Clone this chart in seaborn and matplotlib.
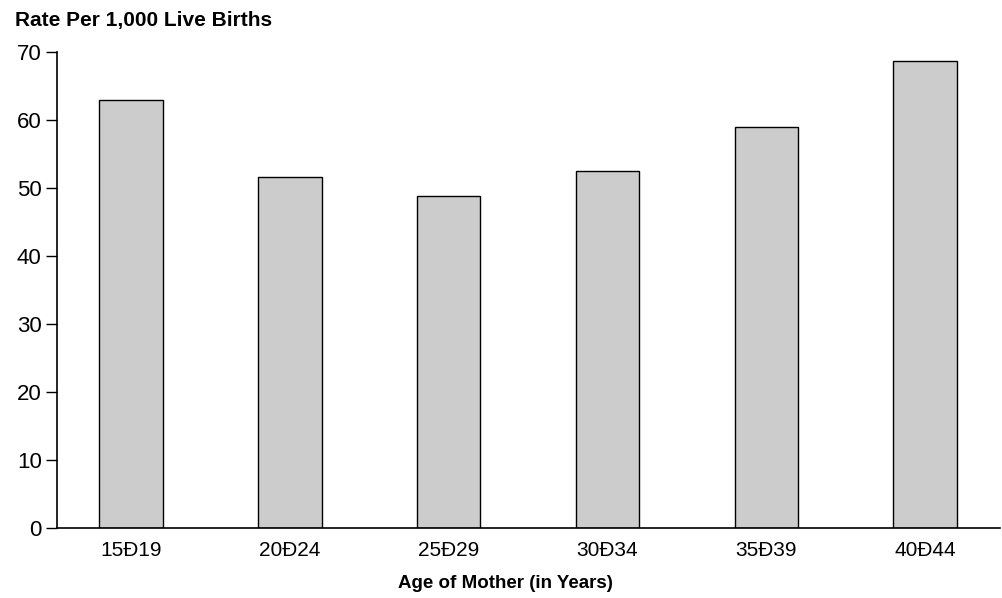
import matplotlib.pyplot as plt
import pandas as pd
import seaborn as sns

age_groups = ["15Ð19", "20Ð24", "25Ð29", "30Ð34", "35Ð39", "40Ð44"]
rates = [62.9, 51.6, 48.8, 52.5, 59.0, 68.7]

df = pd.DataFrame({"age": age_groups, "rate": rates})

sns.set_theme(style="white")
plt.rcParams["font.family"] = ["Liberation Sans", "DejaVu Sans"]
plt.rcParams["text.color"] = "black"
plt.rcParams["axes.labelcolor"] = "black"
plt.rcParams["xtick.color"] = "black"
plt.rcParams["ytick.color"] = "black"

fig = plt.figure(figsize=(10.02, 5.98), dpi=100)
ax = fig.add_axes([0.0569, 0.117, 0.941, 0.796])
sns.barplot(data=df, x="age", y="rate", color="#cccccc", saturation=1,
            edgecolor="black", linewidth=1.0, width=0.4, ax=ax)

ax.set_xlim(-0.465, 5.47)
ax.set_ylim(0, 70)
ax.set_yticks(range(0, 71, 10))
ax.tick_params(axis="y", direction="out", length=8, width=1,
               labelsize=16, pad=3, left=True)
ax.tick_params(axis="x", length=0, labelsize=15, pad=9)
for s in ["top", "right"]:
    ax.spines[s].set_visible(False)
for s in ["left", "bottom"]:
    ax.spines[s].set_color("black")
    ax.spines[s].set_linewidth(1.2)

ax.set_xlabel("")
ax.set_ylabel("")
fig.text(505 / 1002, 1 - 583 / 598, "Age of Mother (in Years)", fontsize=13.5,
         fontweight="bold", ha="center", va="center")
fig.text(0.015, 0.966, "Rate Per 1,000 Live Births", fontsize=15,
         fontweight="bold", ha="left", va="center")

fig.savefig("out.png", dpi=100)
